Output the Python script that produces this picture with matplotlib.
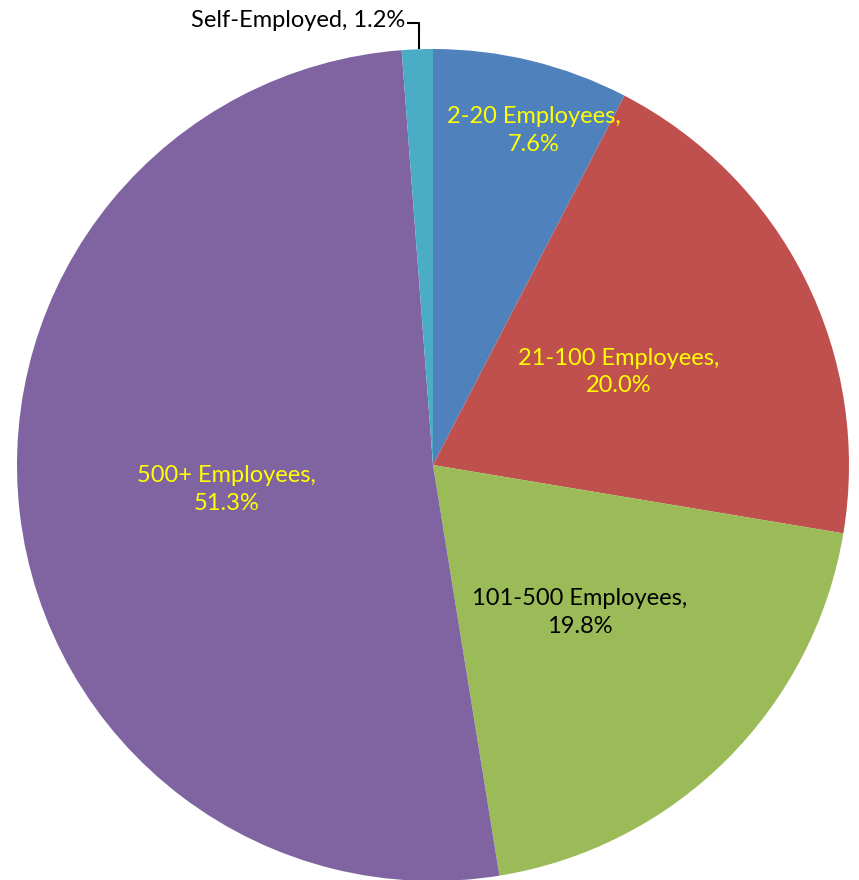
import matplotlib
matplotlib.use('Agg')
import matplotlib.pyplot as plt
import numpy as np

labels = ['2-20 Employees', '21-100 Employees', '101-500 Employees', '500+ Employees', 'Self-Employed']
shares = [7.6, 20.0, 19.8, 51.3, 1.2]
colors = ['#4F81BD', '#C0504D', '#9BBB59', '#8064A2', '#4BACC6']
text_colors = ['#FFFF00', '#FFFF00', 'black', '#FFFF00', 'black']
label_r = [0.84, 0.5, 0.5, 0.5, None]  # None -> outside label with leader
label_shift = [3.0, 0, 0, 0, 0]          # degrees, nudge toward the wedge start

plt.rcParams['font.family'] = ['Lato', 'DejaVu Sans']

W, H = 859, 880
fig = plt.figure(figsize=(W / 100, H / 100), dpi=100)
ax = fig.add_axes([0, 0, 1, 1])

cx, cy, R = 433, 415, 416
wedges, _ = ax.pie(shares, colors=colors, startangle=90, counterclock=False,
                   center=(cx, cy), radius=R, frame=True,
                   wedgeprops=dict(linewidth=0))
ax.set_xlim(0, W); ax.set_ylim(0, H)
ax.axis('off')

for w, lab, val, tc, fr, sh in zip(wedges, labels, shares, text_colors, label_r, label_shift):
    mid = np.deg2rad((w.theta1 + w.theta2) / 2 - sh)
    if fr is not None:
        x = cx + fr * R * np.cos(mid)
        y = cy + fr * R * np.sin(mid)
        ax.text(x, y, f'{lab},\n{val:.1f}%', color=tc, fontsize=17,
                ha='center', va='center', linespacing=1.4)
    else:
        # small slice: label above the pie with a bent leader line
        ex = cx + R * np.cos(mid) + 2
        ey = cy + R * np.sin(mid)
        ty = ey + 26
        ax.plot([ex, ex, ex - 12], [ey, ty, ty], color='black', lw=1.5,
                solid_capstyle='butt')
        ax.text(ex - 14, ty + 3, f'{lab}, {val:.1f}%', color=tc, fontsize=17,
                ha='right', va='center')

fig.savefig('out.png', dpi=100)
